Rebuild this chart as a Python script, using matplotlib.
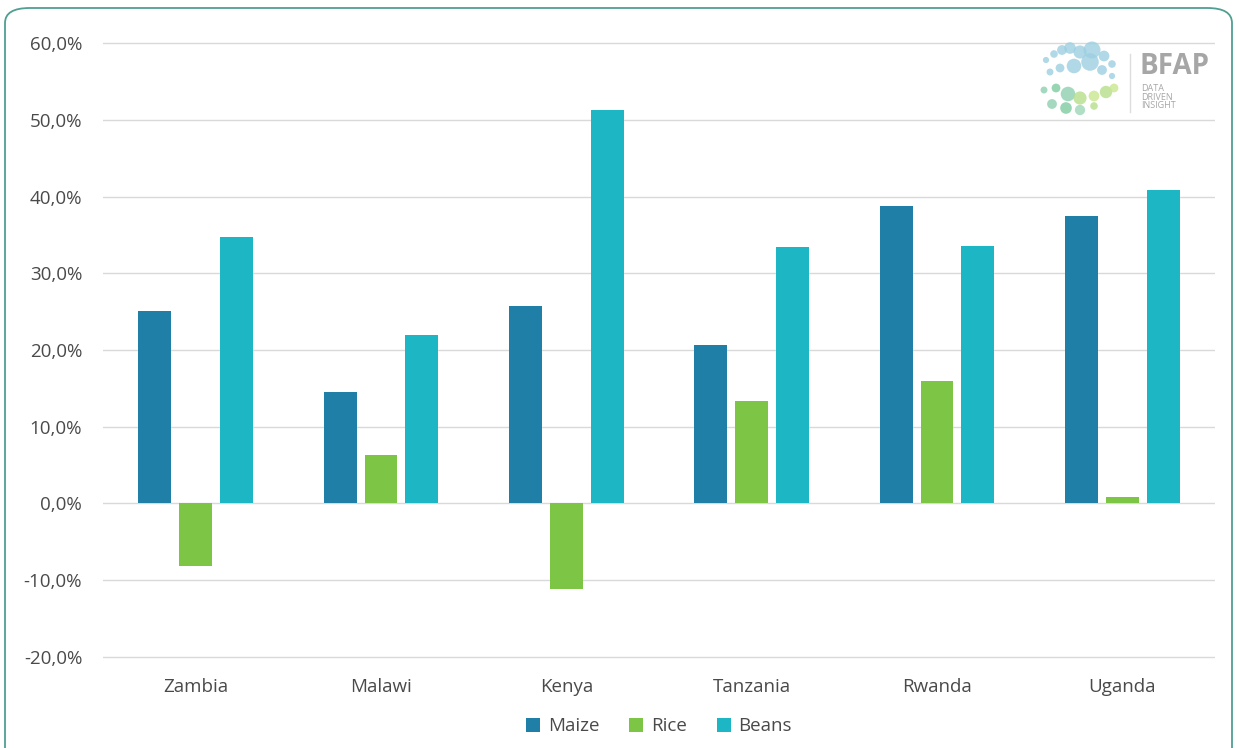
import matplotlib.pyplot as plt
import numpy as np
from matplotlib.patches import FancyBboxPatch
from matplotlib.ticker import FuncFormatter

# Werte (Preisänderung in %)
countries = ["Zambia", "Malawi", "Kenya", "Tanzania", "Rwanda", "Uganda"]
maize = [25.1, 14.5, 25.7, 20.6, 38.8, 37.5]
rice = [-8.1, 6.3, -11.1, 13.4, 15.9, 0.9]
beans = [34.7, 21.9, 51.3, 33.4, 33.5, 40.8]
yticks = [-20, -10, 0, 10, 20, 30, 40, 50, 60]

plt.rcParams['font.family'] = ['Open Sans', 'DejaVu Sans']
text_col = '#4a4a4a'

fig = plt.figure(figsize=(12.39, 7.48), dpi=100)
fig.patch.set_facecolor('white')

# Rahmen mit runden Ecken
frame = FancyBboxPatch((5 / 1239, -0.05), 1227 / 1239, 1 - 8 / 748 + 0.05,
                       boxstyle="round,pad=0,rounding_size=0.02",
                       transform=fig.transFigure, facecolor='none',
                       edgecolor='#4f9f93', linewidth=1.3, zorder=0)
fig.patches.append(frame)

# Achse so, dass 60 % bei y=43 px und -20 % bei y=657 px liegt (+ kleiner Rand)
ax = fig.add_axes([103 / 1239, 1 - 658.5 / 748, 1112 / 1239, (658.5 - 41.5) / 748])
x = np.arange(len(countries))
w = 0.178
step = 0.221
ax.bar(x - step, maize, w, color='#1f7fa6', label='Maize', zorder=3)
ax.bar(x, rice, w, color='#7dc544', label='Rice', zorder=3)
ax.bar(x + step, beans, w, color='#1db6c4', label='Beans', zorder=3)

ax.set_xlim(-0.5, len(countries) - 0.5)
ax.set_ylim(-20.2, 60.2)
ax.set_yticks(yticks)
ax.yaxis.set_major_formatter(FuncFormatter(lambda v, p: f"{v:.1f}%".replace('.', ',')))
ax.set_xticks(x)
ax.set_xticklabels(countries)
ax.tick_params(axis='both', length=0, labelsize=13.5, colors=text_col)
ax.tick_params(axis='y', pad=15)
ax.tick_params(axis='x', pad=14)
ax.grid(axis='y', color='#d9d9d9', linewidth=1, zorder=0)
for s in ax.spines.values():
    s.set_visible(False)

ax.legend(loc='center', bbox_to_anchor=(0.5, -0.11), ncol=3, frameon=False,
          fontsize=13.5, labelcolor=text_col, handlelength=0.75, handleheight=0.75,
          handletextpad=0.4, columnspacing=1.6)

# BFAP Logo (vereinfacht)
lx = [1046, 1054, 1062, 1070, 1080, 1092, 1104, 1112, 1050, 1060, 1074, 1090, 1102, 1112,
      1044, 1056, 1068, 1080, 1094, 1106, 1114, 1052, 1066, 1080, 1094]
ly = [60, 54, 50, 48, 52, 50, 56, 64, 72, 68, 66, 62, 70, 76,
      90, 88, 94, 98, 96, 92, 88, 104, 108, 110, 106]
ls = [20, 30, 50, 70, 90, 150, 60, 30, 25, 40, 110, 160, 50, 20,
      25, 40, 110, 90, 60, 80, 40, 50, 70, 55, 30]
lc = ['#9ccfe0'] * 14 + ['#8fd0b0', '#7ecba0', '#8fd0b0', '#b6df8a', '#c9e68f', '#b6df8a', '#c9e68f',
                         '#8fd0b0', '#7ecba0', '#9cd7b8', '#b6df8a']
lax = fig.add_axes([0, 0, 1, 1], facecolor='none')
lax.set_xlim(0, 1239)
lax.set_ylim(748, 0)
lax.axis('off')
lax.scatter(lx, ly, s=ls, c=lc, alpha=0.8, edgecolors='none')
lax.plot([1130, 1130], [54, 112], color='#dddddd', linewidth=1)
lax.text(1139, 66, "BFAP", fontsize=20, fontweight='bold', color='#a6a6a6', va='center')
lax.text(1141, 97, "DATA\nDRIVEN\nINSIGHT", fontsize=6.5, color='#a6a6a6', va='center',
         linespacing=0.95)

fig.savefig('out.png', dpi=100, facecolor=fig.get_facecolor())
